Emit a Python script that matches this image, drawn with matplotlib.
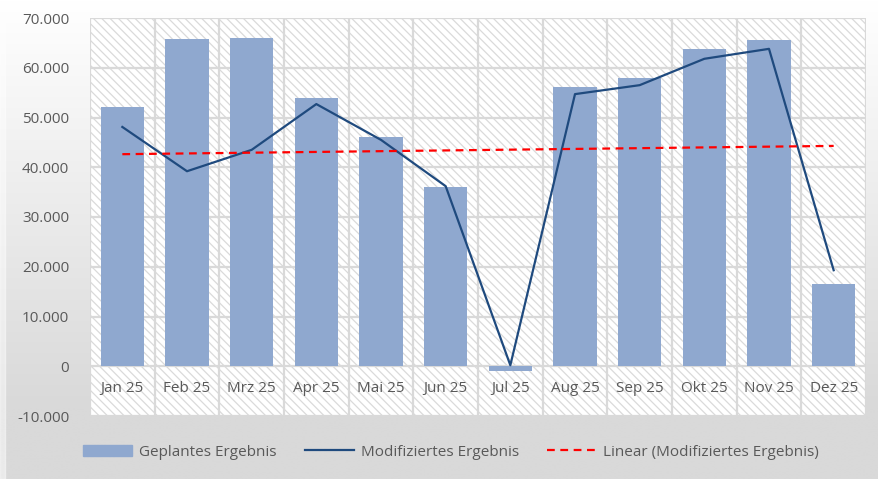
import numpy as np
import matplotlib
matplotlib.use("Agg")
import matplotlib.pyplot as plt
from matplotlib.patches import Rectangle
from matplotlib.lines import Line2D
from matplotlib.ticker import FuncFormatter, MultipleLocator

# Monthly data
months = ["Jan 25", "Feb 25", "Mrz 25", "Apr 25", "Mai 25", "Jun 25",
          "Jul 25", "Aug 25", "Sep 25", "Okt 25", "Nov 25", "Dez 25"]
geplant = [52100, 65800, 66000, 53900, 46100, 36000,
           -900, 56100, 57900, 63800, 65600, 16500]
modifiziert = [48100, 39200, 43500, 52700, 45500, 36200,
               200, 54700, 56500, 61800, 63800, 19300]
series_names = ["Geplantes Ergebnis", "Modifiziertes Ergebnis",
                "Linear (Modifiziertes Ergebnis)"]

plt.rcParams["font.family"] = ["Open Sans", "DejaVu Sans"]
plt.rcParams["hatch.linewidth"] = 0.9

W, H, DPI = 879, 479, 100
fig = plt.figure(figsize=(W / DPI, H / DPI), dpi=DPI)

# Background: vertical gradient white -> light gray
bg = fig.add_axes([0, 0, 1, 1], zorder=-10)
rows = np.linspace(0, 1, 200)
shade = 1.0 - (1.0 - 0xd9 / 255) * np.clip(rows / 0.85, 0, 1)
grad = np.repeat(shade[:, None], 2, axis=1)
bg.imshow(np.dstack([grad, grad, grad]), aspect="auto",
          extent=[0, 1, 1, 0], interpolation="bilinear")
bg.add_patch(Rectangle((0, 0), 5 / W, 1, color="#ffffff", alpha=0.45))
bg.set_xlim(0, 1)
bg.set_ylim(1, 0)
bg.axis("off")

# Plot area
left, right, top, bottom = 90, 866, 18, 416
ax = fig.add_axes([left / W, 1 - bottom / H, (right - left) / W, (bottom - top) / H])
ax.set_facecolor("white")
ax.add_patch(Rectangle((0, 0), 1, 1, transform=ax.transAxes, facecolor="white",
                       edgecolor="#dadada", hatch="\\\\\\\\", linewidth=0, zorder=0))

x = np.arange(len(months))
ax.set_xlim(-0.5, len(months) - 0.5)
ax.set_ylim(-10000, 70000)

# Gridlines
grid_c = "#d9d9d9"
for yv in range(-10000, 70001, 10000):
    ax.axhline(yv, color=grid_c, lw=1.6, zorder=1)
for xv in np.arange(-0.5, len(months), 1.0):
    ax.axvline(xv, color=grid_c, lw=1.6, zorder=1)

bar_c = "#8fa8cf"
line_c = "#1f4a7e"
ax.bar(x, geplant, width=0.67, color=bar_c, zorder=2)
ax.plot(x, modifiziert, color=line_c, lw=1.6, zorder=3)

# Linear trend of the modified result
k, d = np.polyfit(x, modifiziert, 1)
ax.plot(x, k * x + d, color="#ff0000", lw=1.6, ls=(0, (3.5, 2.5)), zorder=4)

for s in ax.spines.values():
    s.set_visible(False)

ax.yaxis.set_major_locator(MultipleLocator(10000))
ax.yaxis.set_major_formatter(FuncFormatter(
    lambda v, p: "0" if v == 0 else f"{v:,.0f}".replace(",", ".")))
ax.tick_params(axis="y", length=0, pad=15, labelsize=11, labelcolor="#595959")

ax.set_xticks([])
for xi, m in zip(x, months):
    ax.text(xi, -4400, m, ha="center", va="center", fontsize=11,
            color="#595959", zorder=5)

handles = [Rectangle((0, 0), 1, 1, color=bar_c),
           Line2D([], [], color=line_c, lw=1.6),
           Line2D([], [], color="#ff0000", lw=1.6, ls=(0, (3.5, 2.5)))]
fig.legend(handles, series_names, loc="center", ncol=3,
           bbox_to_anchor=(0.513, 1 - 452 / H), frameon=False,
           fontsize=11, labelcolor="#595959", handlelength=3.2,
           columnspacing=1.85, handletextpad=0.45)

fig.savefig("out.png", dpi=DPI)
